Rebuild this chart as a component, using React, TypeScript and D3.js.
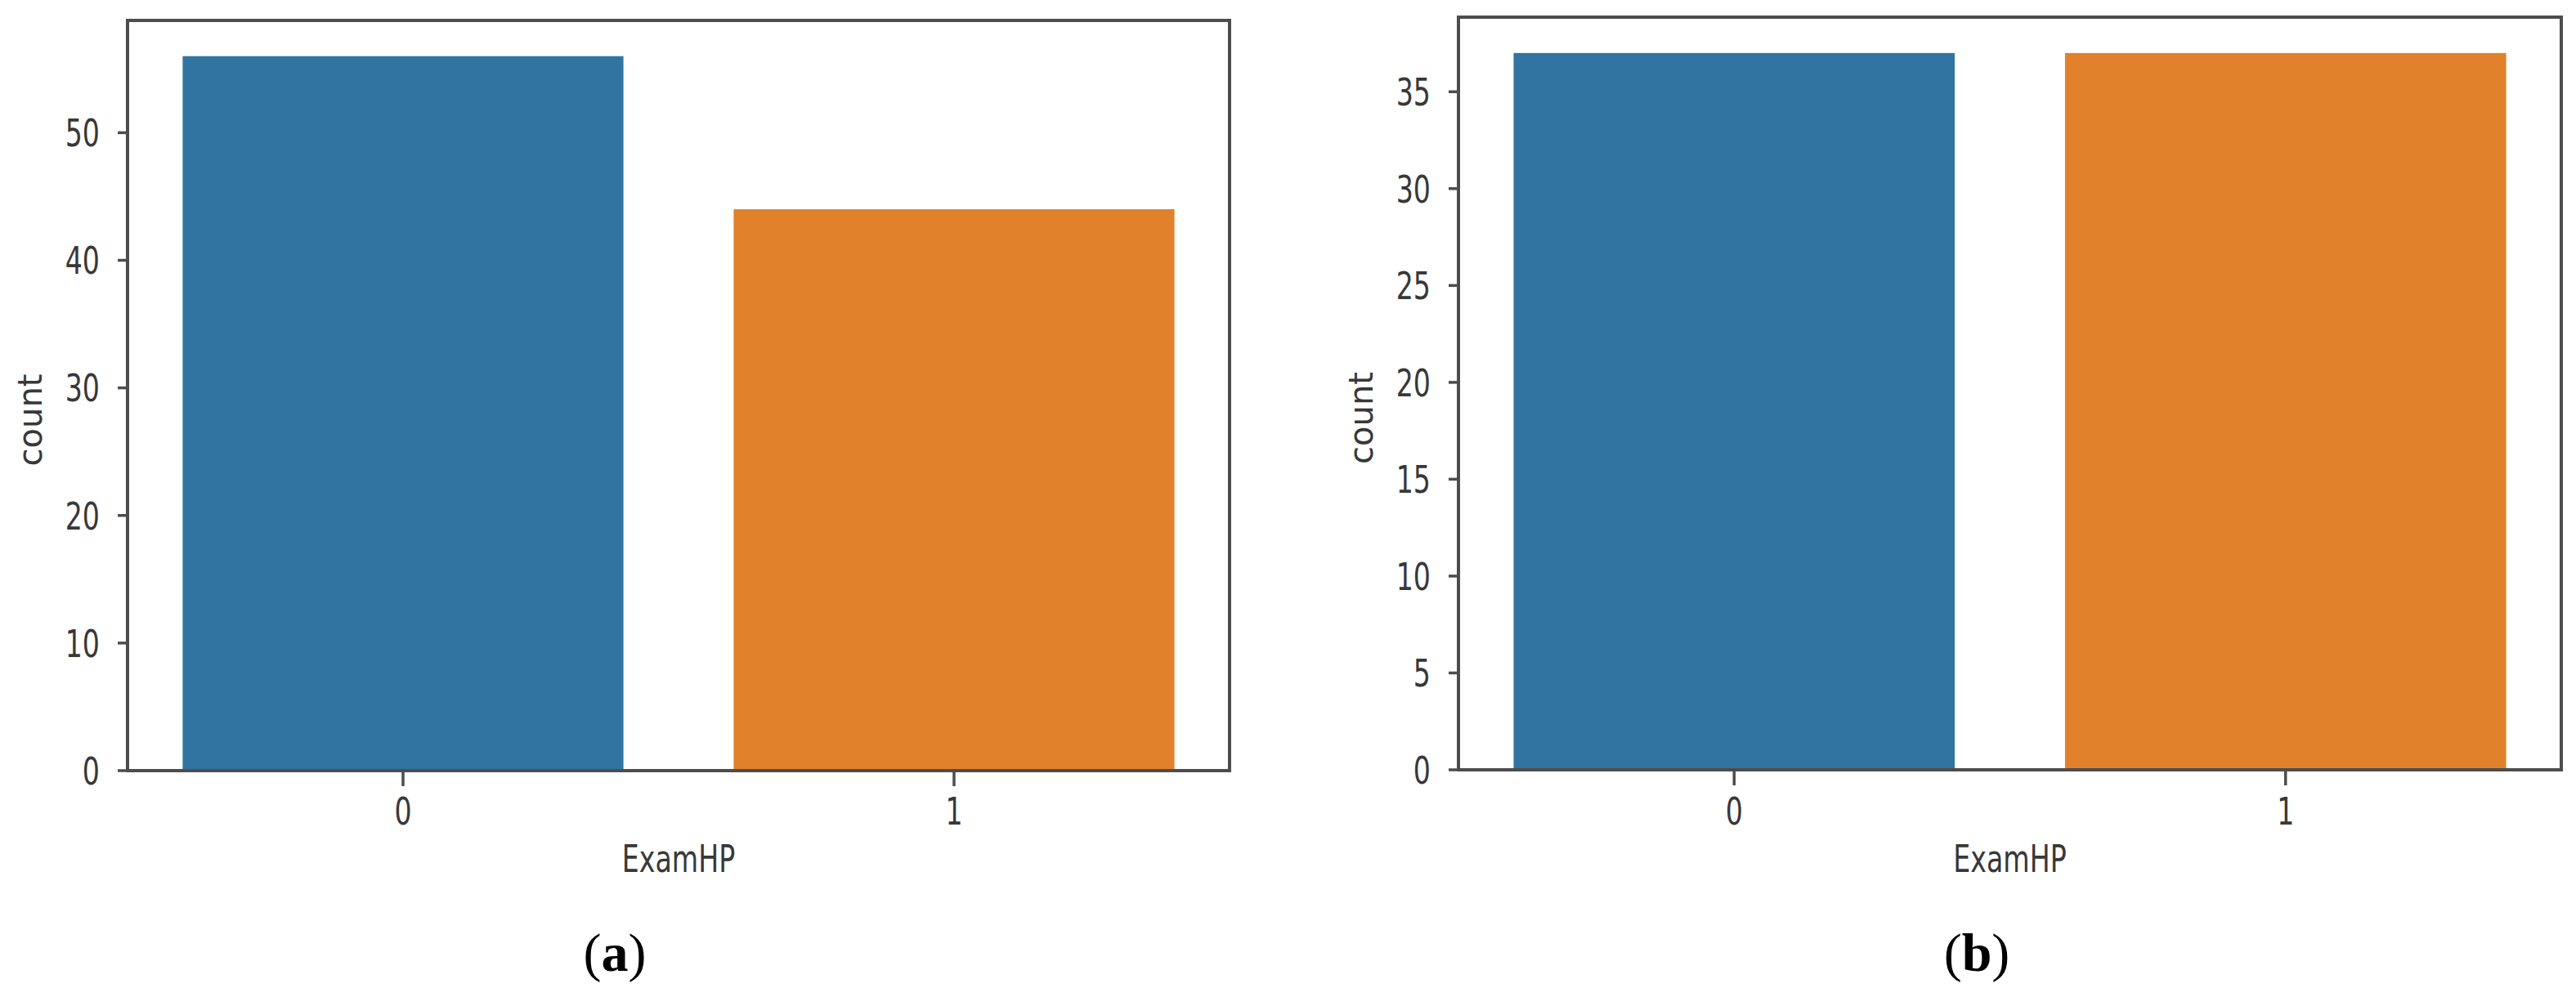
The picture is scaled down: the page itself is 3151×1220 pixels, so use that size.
import React from "react";
import * as d3 from "d3";

const categories = ["0", "1"];
const countsA = [56, 44];
const countsB = [37, 37];
const ticksA = [0, 10, 20, 30, 40, 50];
const ticksB = [0, 5, 10, 15, 20, 25, 30, 35];
const barColors = ["#3274a1", "#e1812c"];
const xLabel = "ExamHP";
const yLabel = "count";
const panelLabels = ["a", "b"];

const W = 3151;
const H = 1220;
const FONT = "'DejaVu Sans', sans-serif";
const FS = 40;
const SX = 0.83;
const SY = 1.15;
const TXT = "#383838";
const SPINE = "#4d4d4d";

type PanelProps = {
  left: number;
  right: number;
  top: number;
  bottom: number;
  values: number[];
  ticks: number[];
};

function Panel({ left, right, top, bottom, values, ticks }: PanelProps) {
  const x = d3
    .scaleBand<string>()
    .domain(categories)
    .range([left, right])
    .paddingInner(0.2)
    .paddingOuter(0.1);
  const yMax = (d3.max(values) as number) * 1.05;
  const y = d3.scaleLinear().domain([0, yMax]).range([bottom, top]);
  const digitOff = 0.365 * FS * SY;
  return (
    <g>
      {values.map((v, i) => (
        <rect
          key={i}
          x={x(categories[i])}
          y={y(v)}
          width={x.bandwidth()}
          height={y(0) - y(v)}
          fill={barColors[i]}
        />
      ))}
      <rect
        x={left}
        y={top}
        width={right - left}
        height={bottom - top}
        fill="none"
        stroke={SPINE}
        strokeWidth={4}
      />
      {ticks.map((t) => (
        <g key={t}>
          <line x1={left - 12} x2={left} y1={y(t)} y2={y(t)} stroke={SPINE} strokeWidth={3.5} />
          <text
            transform={`translate(${left - 34},${y(t) + digitOff}) scale(${SX},${SY})`}
            textAnchor="end"
            fontFamily={FONT}
            fontSize={FS}
            fill={TXT}
          >
            {t}
          </text>
        </g>
      ))}
      {categories.map((c) => {
        const cx = (x(c) as number) + x.bandwidth() / 2;
        return (
          <g key={c}>
            <line x1={cx} x2={cx} y1={bottom} y2={bottom + 19} stroke={SPINE} strokeWidth={3.5} />
            <text
              transform={`translate(${cx},${992 + digitOff}) scale(${SX},${SY})`}
              textAnchor="middle"
              fontFamily={FONT}
              fontSize={FS}
              fill={TXT}
            >
              {c}
            </text>
          </g>
        );
      })}
      <text
        transform={`translate(${(left + right) / 2},${1050 + digitOff}) scale(${SX},${SY})`}
        textAnchor="middle"
        fontFamily={FONT}
        fontSize={FS}
        fill={TXT}
      >
        {xLabel}
      </text>
      <text
        transform={`translate(${left - 105},${(top + bottom) / 2 + 30}) rotate(-90)`}
        textAnchor="middle"
        fontFamily={FONT}
        fontSize={FS}
        fill={TXT}
      >
        {yLabel}
      </text>
    </g>
  );
}

export default function App() {
  return (
    <svg
      width={W}
      height={H}
      viewBox={`0 0 ${W} ${H}`}
      style={{ position: "absolute", left: 0, top: 0, background: "#fff" }}
    >
      <rect x={0} y={0} width={W} height={H} fill="#fff" />
      <Panel left={156} right={1504} top={25} bottom={943} values={countsA} ticks={ticksA} />
      <Panel left={1784} right={3133} top={21} bottom={942} values={countsB} ticks={ticksB} />
      {[752, 2418].map((cx, i) => (
        <text
          key={i}
          x={cx}
          y={1188}
          textAnchor="middle"
          fontFamily="'Liberation Serif', 'Times New Roman', serif"
          fontSize={66}
          fill="#000"
        >
          (<tspan fontWeight="bold">{panelLabels[i]}</tspan>)
        </text>
      ))}
    </svg>
  );
}
